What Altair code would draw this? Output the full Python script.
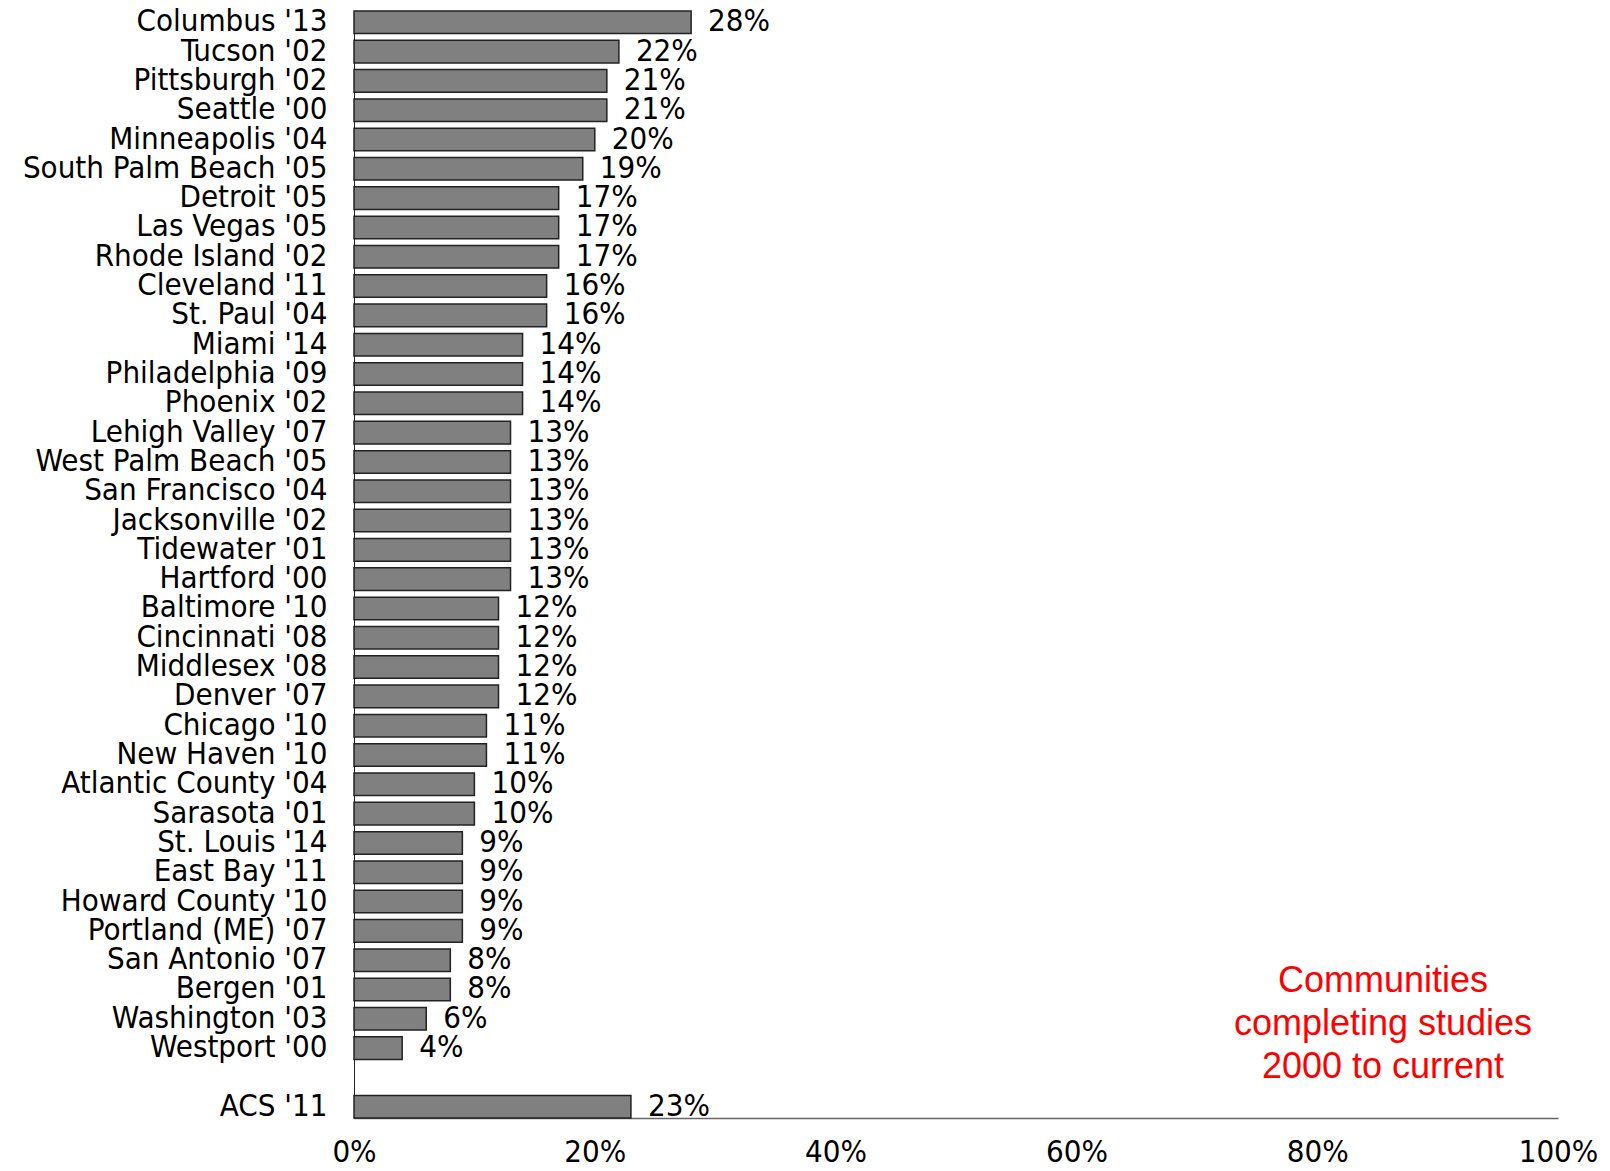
import altair as alt
import pandas as pd

communities = ["Columbus '13", "Tucson '02", "Pittsburgh '02", "Seattle '00", "Minneapolis '04",
               "South Palm Beach '05", "Detroit '05", "Las Vegas '05", "Rhode Island '02",
               "Cleveland '11", "St. Paul '04", "Miami '14", "Philadelphia '09", "Phoenix '02",
               "Lehigh Valley '07", "West Palm Beach '05", "San Francisco '04", "Jacksonville '02",
               "Tidewater '01", "Hartford '00", "Baltimore '10", "Cincinnati '08", "Middlesex '08",
               "Denver '07", "Chicago '10", "New Haven '10", "Atlantic County '04", "Sarasota '01",
               "St. Louis '14", "East Bay '11", "Howard County '10", "Portland (ME) '07",
               "San Antonio '07", "Bergen '01", "Washington '03", "Westport '00", "ACS '11"]
values = [28, 22, 21, 21, 20, 19, 17, 17, 17, 16, 16, 14, 14, 14, 13, 13, 13, 13, 13, 13,
          12, 12, 12, 12, 11, 11, 10, 10, 9, 9, 9, 9, 8, 8, 6, 4, 23]

annotation_text = "Communities\ncompleting studies\n2000 to current"

domain = communities[:-1] + [""] + communities[-1:]

df = pd.DataFrame({"name": communities, "value": [v / 100 for v in values],
                   "label": [f"{v}%" for v in values]})

FONT = "Liberation Sans Narrow, Arial Narrow, DejaVu Sans Condensed, sans-serif"
FS = 31

y = alt.Y("name:N", sort=domain, scale=alt.Scale(domain=domain, paddingInner=0.23, paddingOuter=0),
          axis=alt.Axis(title=None, ticks=False, labelFontSize=FS, labelFont=FONT,
                        labelColor="black", labelPadding=27, domainColor="#222",
                        domainWidth=1, labelLimit=400))
x = alt.X("value:Q", scale=alt.Scale(domain=[0, 1], nice=False),
          axis=alt.Axis(title=None, format="%", values=[0, 0.2, 0.4, 0.6, 0.8, 1.0],
                        ticks=False, grid=False, labelFontSize=FS, labelFont=FONT,
                        labelColor="black", labelPadding=19, domainColor="#666",
                        domainWidth=1.5, labelFlush=False))

base = alt.Chart(df)
bars = base.mark_bar(color="#808080", stroke="#222", strokeWidth=1.5).encode(x=x, y=y)
labels = base.mark_text(align="left", baseline="middle", dx=17, fontSize=FS, font=FONT,
                        color="black").encode(x="value:Q", y="name:N", text="label:N")

ann = alt.Chart(pd.DataFrame({"t": [annotation_text]})).mark_text(
    align="center", baseline="middle", fontSize=36, lineBreak="\n", lineHeight=43,
    font="Liberation Sans, Arial, sans-serif", color="#FF0000").encode(
    x=alt.value(1029), y=alt.value(970), text="t:N")

chart = alt.layer(bars, labels, ann).properties(
    width=1204, height=1107,
    autosize=alt.AutoSizeParams(type="none"),
    padding={"left": 346, "top": 3, "right": 42, "bottom": 51},
).configure_view(stroke=None)

chart.save("out.html", embed_options={"renderer": "svg", "actions": False})
